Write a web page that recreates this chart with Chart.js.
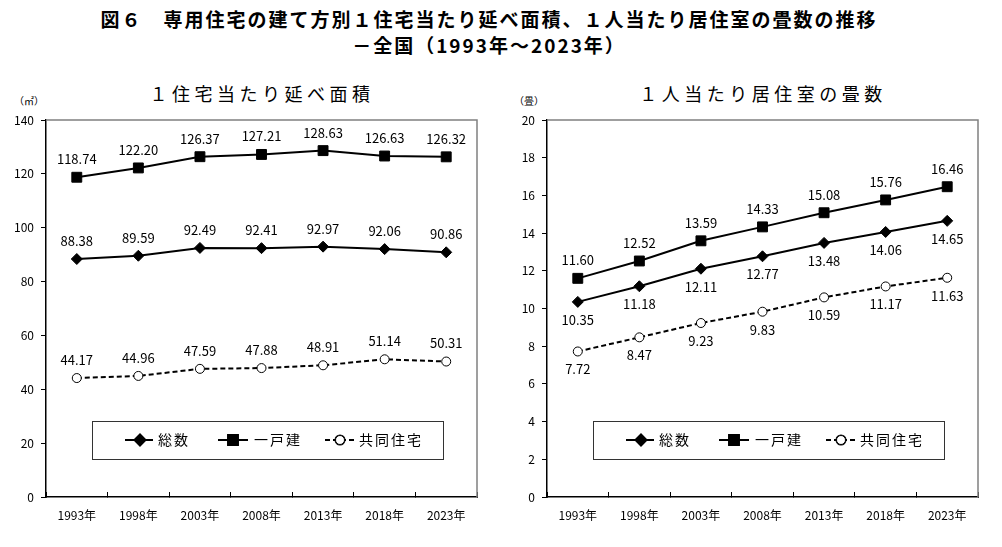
<!DOCTYPE html>
<html lang="ja">
<head>
<meta charset="utf-8">
<script src="https://cdn.jsdelivr.net/npm/chart.js@4.4.1/dist/chart.umd.min.js"></script>
<style>
  body { margin: 0; background: #fff; font-family: "Noto Sans CJK JP", sans-serif; }
  #pagina { position: relative; width: 1002px; height: 547px; overflow: hidden; }
  .titulo { position: absolute; left: 0; width: 978px; text-align: center; font-weight: bold; font-size: 19px; letter-spacing: 2px; color: #000; }
  .subtitulo { position: absolute; font-size: 18px; color: #000; letter-spacing: 4.5px; text-align: center; width: 430px; }
  .unidad { position: absolute; font-size: 10px; color: #000; }
  canvas { position: absolute; top: 0; }
</style>
</head>
<body>
<div id="pagina">
  <div class="titulo" style="top:5px;">図６　専用住宅の建て方別１住宅当たり延べ面積、１人当たり居住室の畳数の推移</div>
  <div class="titulo" style="top:31px;">－全国（1993年～2023年）</div>
  <div class="subtitulo" style="left:47px; top:80px;">１住宅当たり延べ面積</div>
  <div class="subtitulo" style="left:548px; top:80px;">１人当たり居住室の畳数</div>
  <div class="unidad" style="left:14px; top:93px;">（㎡）</div>
  <div class="unidad" style="left:514px; top:93px;">（畳）</div>
  <canvas id="graficoArea" width="501" height="547" style="left:0;"></canvas>
  <canvas id="graficoTatami" width="501" height="547" style="left:501px;"></canvas>
</div>
<script>
// Datos
const anios = ['1993年', '1998年', '2003年', '2008年', '2013年', '2018年', '2023年'];
const series = ['総数', '一戸建', '共同住宅'];

const areaTotal = [88.38, 89.59, 92.49, 92.41, 92.97, 92.06, 90.86];
const areaCasa = [118.74, 122.20, 126.37, 127.21, 128.63, 126.63, 126.32];
const areaDepto = [44.17, 44.96, 47.59, 47.88, 48.91, 51.14, 50.31];

const tatamiTotal = [10.35, 11.18, 12.11, 12.77, 13.48, 14.06, 14.65];
const tatamiCasa = [11.60, 12.52, 13.59, 14.33, 15.08, 15.76, 16.46];
const tatamiDepto = [7.72, 8.47, 9.23, 9.83, 10.59, 11.17, 11.63];

const fuente = '"Noto Sans CJK JP", sans-serif';

// Estilos de cada serie
const estilos = [
    { pointStyle: 'rectRot', radius: 5.5, dash: [], fill: '#000' },
    { pointStyle: 'rect', radius: 7, dash: [], fill: '#000' },
    { pointStyle: 'circle', radius: 4.5, dash: [5, 3], fill: '#fff' }
];

function crearDataset(nombre, valores, estilo, posEtiqueta) {
    return {
        label: nombre,
        data: valores,
        borderColor: '#000',
        borderWidth: 2,
        borderDash: estilo.dash,
        backgroundColor: estilo.fill,
        pointStyle: estilo.pointStyle,
        pointRadius: estilo.radius,
        pointBorderWidth: 1,
        pointBorderColor: '#000',
        pointBackgroundColor: estilo.fill,
        tension: 0,
        posEtiqueta: posEtiqueta
    };
}

// Etiquetas de valores sobre/bajo los puntos
const etiquetasValores = {
    id: 'etiquetasValores',
    afterDatasetsDraw(chart) {
        const c = chart.ctx;
        c.save();
        c.font = '13px ' + fuente;
        c.fillStyle = '#000';
        c.textAlign = 'center';
        c.textBaseline = 'middle';
        chart.data.datasets.forEach((ds, i) => {
            const meta = chart.getDatasetMeta(i);
            meta.data.forEach((p, j) => {
                const dy = ds.posEtiqueta === 'abajo' ? 18 : -18;
                c.fillText(ds.data[j].toFixed(2), p.x, p.y + dy);
            });
        });
        c.restore();
    }
};

// Borde superior y derecho del área de trazado
const bordeArea = {
    id: 'bordeArea',
    beforeDatasetsDraw(chart) {
        const a = chart.chartArea;
        const c = chart.ctx;
        c.save();
        c.strokeStyle = '#808080';
        c.lineWidth = 1.5;
        c.beginPath();
        c.moveTo(a.left, a.top);
        c.lineTo(a.right, a.top);
        c.lineTo(a.right, a.bottom);
        c.stroke();
        c.restore();
    }
};

// Leyenda dibujada dentro del área
const leyendaCaja = {
    id: 'leyendaCaja',
    afterDraw(chart) {
        const a = chart.chartArea;
        const c = chart.ctx;
        const x0 = a.left + 46, x1 = a.right - 34;
        const y0 = a.bottom - 76, y1 = a.bottom - 38;
        const ym = (y0 + y1) / 2;
        c.save();
        c.fillStyle = '#fff';
        c.fillRect(x0, y0, x1 - x0, y1 - y0);
        c.strokeStyle = '#333';
        c.lineWidth = 1;
        c.strokeRect(x0 + 0.5, y0 + 0.5, x1 - x0, y1 - y0);
        const entradas = [
            { l1: 33, l2: 61, m: 48, t: 66 },
            { l1: 126, l2: 156, m: 141, t: 162 },
            { l1: 233, l2: 263, m: 248, t: 267 }
        ];
        chart.data.datasets.forEach((ds, i) => {
            const e = entradas[i];
            c.strokeStyle = '#000';
            c.lineWidth = 2;
            c.setLineDash(ds.borderDash || []);
            c.beginPath();
            c.moveTo(x0 + e.l1, ym);
            c.lineTo(x0 + e.l2, ym);
            c.stroke();
            c.setLineDash([]);
            Chart.helpers.drawPoint(c, {
                pointStyle: ds.pointStyle,
                radius: ds.pointRadius,
                rotation: 0,
                borderWidth: 1
            }, x0 + e.m, ym);
            c.fillStyle = ds.pointBackgroundColor;
            c.fill();
            c.lineWidth = 1;
            c.strokeStyle = '#000';
            c.stroke();
            c.fillStyle = '#000';
            c.font = '14px ' + fuente;
            c.textAlign = 'left';
            c.textBaseline = 'middle';
            if (c.letterSpacing !== undefined) c.letterSpacing = '2px';
            c.fillText(ds.label, x0 + e.t, ym);
            if (c.letterSpacing !== undefined) c.letterSpacing = '0px';
        });
        c.restore();
    }
};

function crearGrafico(idCanvas, datasets, maximo, paso) {
    const ctx = document.getElementById(idCanvas).getContext('2d');
    return new Chart(ctx, {
        type: 'line',
        data: { labels: anios, datasets: datasets },
        options: {
            responsive: false,
            animation: false,
            layout: { padding: { top: 120, right: 24, bottom: 10, left: 0 } },
            plugins: { legend: { display: false }, tooltip: { enabled: false } },
            scales: {
                x: {
                    offset: true,
                    grid: { offset: true, drawOnChartArea: false, drawTicks: true, tickLength: -5, color: '#000', lineWidth: 1 },
                    border: { color: '#000', width: 1.5 },
                    ticks: { color: '#000', font: { family: fuente, size: 12 }, padding: 16, maxRotation: 0 },
                    afterFit(s) { s.height = 40; }
                },
                y: {
                    min: 0,
                    max: maximo,
                    ticks: { stepSize: paso, color: '#000', font: { family: fuente, size: 12 }, padding: 7 },
                    grid: { drawOnChartArea: false, drawTicks: true, tickLength: 5, color: '#000' },
                    border: { color: '#000', width: 1.5 },
                    afterFit(s) { s.width = 46; }
                }
            }
        },
        plugins: [bordeArea, etiquetasValores, leyendaCaja]
    });
}

crearGrafico('graficoArea', [
    crearDataset(series[0], areaTotal, estilos[0], 'arriba'),
    crearDataset(series[1], areaCasa, estilos[1], 'arriba'),
    crearDataset(series[2], areaDepto, estilos[2], 'arriba')
], 140, 20);

crearGrafico('graficoTatami', [
    crearDataset(series[0], tatamiTotal, estilos[0], 'abajo'),
    crearDataset(series[1], tatamiCasa, estilos[1], 'arriba'),
    crearDataset(series[2], tatamiDepto, estilos[2], 'abajo')
], 20, 2);
</script>
</body>
</html>
